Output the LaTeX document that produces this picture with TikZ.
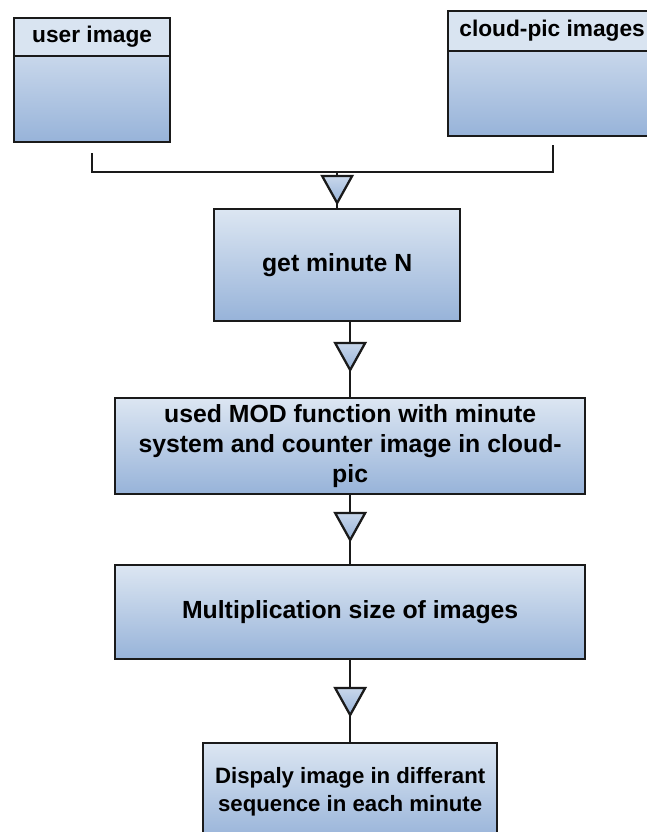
\documentclass[tikz,border=0pt]{standalone}
\usepackage{fontspec}
\setmainfont{Liberation Sans}
\usetikzlibrary{calc}
\definecolor{boxtop}{HTML}{DCE6F2}
\definecolor{boxbot}{HTML}{97B3D9}
\definecolor{headfill}{HTML}{D9E4F1}
\definecolor{bodytop}{HTML}{C8D7EB}
\definecolor{edge}{HTML}{1A1A1A}
\begin{document}
\begin{tikzpicture}[x=1pt,y=-1pt,
  procbox/.style={draw=edge, line width=2.3pt, top color=boxtop, bottom color=boxbot,
    anchor=north west, inner sep=0pt, align=center,
    font=\bfseries\fontsize{24.8}{30}\selectfont},
  headbox/.style={draw=edge, line width=2.3pt, fill=headfill, anchor=north west,
    inner sep=0pt, font=\bfseries\fontsize{22.7}{26}\selectfont},
  bodybox/.style={draw=edge, line width=2.3pt, top color=bodytop, bottom color=boxbot,
    anchor=north west, inner sep=0pt},
  conn/.style={draw=edge, line width=2.3pt},
  flowtri/.pic={\draw[draw=edge, line width=2.3pt, line join=miter,
      top color=bodytop, bottom color=boxbot]
      (-15,0) -- (15,0) -- (0,27) -- cycle;}
]
\useasboundingbox (0,0) rectangle (647,832);

% source containers
\node[bodybox, minimum width=156pt, minimum height=86pt] (userbody) at (13,55) {};
\node[headbox, minimum width=156pt, minimum height=38pt] (userhead) at (13,17) {user image};
\node[bodybox, minimum width=208pt, minimum height=85pt] (cloudbody) at (447,50) {};
\node[headbox, minimum width=208pt, minimum height=40pt] (cloudhead) at (447,10) {cloud-pic images};

% processing steps
\node[procbox, minimum width=246pt, minimum height=112pt] (get) at (213,208) {get minute N};
\node[procbox, minimum width=470pt, minimum height=96pt] (mod) at (114,397)
  {used MOD function with minute\\system and counter image in cloud-\\pic};
\node[procbox, minimum width=470pt, minimum height=94pt] (mult) at (114,564)
  {Multiplication size of images};
\node[procbox, minimum width=294pt, minimum height=98pt,
  font=\bfseries\fontsize{22.2}{28}\selectfont] (disp) at (202,742)
  {Dispaly image in differant\\sequence in each minute};

% merge of the two sources
\coordinate (ustart) at ($(userbody.south)+(0,10)$);
\coordinate (cstart) at ($(cloudbody.south west)+(106,8)$);
\coordinate (join) at ($(get.north)+(0,-36)$);
\draw[conn] (ustart) |- (join) -| (cstart);
\draw[conn] (join) -- (get.north);
\pic at ($(get.north)+(0,-32)$) {flowtri};

% step-to-step links
\draw[conn] (mod.north |- get.south) -- (mod.north);
\pic at ($(mod.north)+(0,-54)$) {flowtri};
\draw[conn] (mod.south) -- (mult.north);
\pic at ($(mult.north)+(0,-51)$) {flowtri};
\draw[conn] (mult.south -| disp.north) -- (disp.north);
\pic at ($(disp.north)+(0,-54)$) {flowtri};
\end{tikzpicture}
\end{document}
